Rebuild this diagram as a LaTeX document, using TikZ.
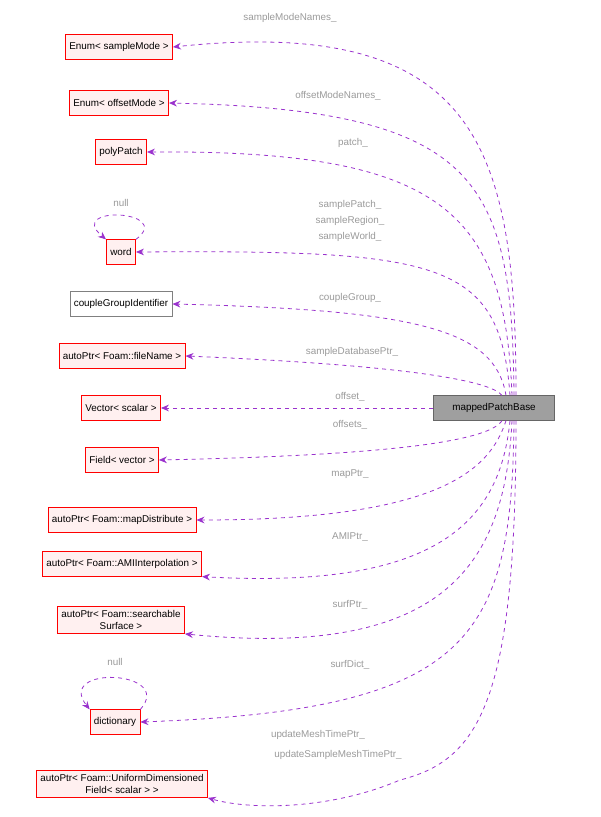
\documentclass[tikz,border=0pt]{standalone}
\usepackage{fontspec}
\setmainfont{Liberation Sans}
\usetikzlibrary{arrows.meta}
\definecolor{edgepurple}{HTML}{9A32CD}
\definecolor{boxred}{HTML}{FF0000}
\definecolor{boxfill}{HTML}{FFF0F0}
\definecolor{labgray}{HTML}{9A9A9A}
\tikzset{
  x=0.75pt, y=-0.75pt,
  cls/.style={draw=boxred, fill=boxfill, font=\fontsize{7.4}{9}\selectfont, inner sep=3pt, minimum height=18.5pt, align=center},
  plain/.style={cls, draw=gray, fill=white},
  main/.style={cls, draw=gray!80!black, fill=gray!75, minimum width=91pt},
  rel/.style={draw=edgepurple, dashed, line width=0.6pt, -{Stealth[length=6pt,width=5pt]}},
  lab/.style={text=labgray, font=\fontsize{7.4}{9}\selectfont, inner sep=0pt},
}
\begin{document}
\begin{tikzpicture}
  \useasboundingbox (0,0) rectangle (600,817);
  % classes
  \node[main] (mp) at (494,408) {mappedPatchBase};
  \node[cls] (sm) at (119,47) {Enum< sampleMode >};
  \node[cls] (om) at (119,103) {Enum< offsetMode >};
  \node[cls] (pp) at (121,152) {polyPatch};
  \node[cls] (wd) at (121,252) {word};
  \node[plain] (cg) at (121,304) {coupleGroupIdentifier};
  \node[cls] (fn) at (122,356) {autoPtr< Foam::fileName >};
  \node[cls] (vs) at (121,408) {Vector< scalar >};
  \node[cls] (fv) at (122,460) {Field< vector >};
  \node[cls] (md) at (122,520) {autoPtr< Foam::mapDistribute >};
  \node[cls] (ami) at (122,564) {autoPtr< Foam::AMIInterpolation >};
  \node[cls] (ss) at (121,620) {autoPtr< Foam::searchable\\Surface >};
  \node[cls] (dc) at (115,722) {dictionary};
  \node[cls] (ud) at (122,784) {autoPtr< Foam::UniformDimensioned\\Field< scalar > >};

  % relations
  \draw[rel] ([xshift=16.5pt]mp.north) .. controls (516,150) and (480,15) .. (sm.east);
  \draw[rel] ([xshift=15pt]mp.north) .. controls (512,180) and (480,110) .. (om.east);
  \draw[rel] ([xshift=13.5pt]mp.north) .. controls (505,210) and (440,150) .. (pp.east);
  \draw[rel] ([xshift=12pt]mp.north) .. controls (500,260) and (440,250) .. (wd.east);
  \draw[rel] ([xshift=9pt]mp.north) .. controls (495,330) and (420,310) .. (cg.east);
  \draw[rel] ([xshift=6pt]mp.north) .. controls (490,380) and (400,365) .. (fn.east);
  \draw[rel] (mp.west) -- (vs.east);
  \draw[rel] ([xshift=6pt]mp.south) .. controls (490,440) and (400,455) .. (fv.east);
  \draw[rel] ([xshift=9pt]mp.south) .. controls (490,470) and (440,520) .. (md.east);
  \draw[rel] ([xshift=12pt]mp.south) .. controls (500,520) and (440,590) .. (ami.south east);
  \draw[rel] ([xshift=13.5pt]mp.south) .. controls (505,560) and (450,660) .. (ss.south east);
  \draw[rel] ([xshift=15pt]mp.south) .. controls (512,640) and (470,710) .. (dc.east);
  \draw[rel] ([xshift=16.5pt]mp.south) .. controls (516,700) and (480,760) .. (400,780) .. controls (330,810) and (250,810) .. (ud.south east);
  \draw[rel] (wd.north east) .. controls (175,210) and (65,205) .. (wd.north west);
  \draw[rel] (dc.north east) .. controls (175,670) and (55,665) .. (dc.north west);

  % labels
  \node[lab] (l1) at (290,18) {sampleModeNames\_};
  \node[lab] (l2) at (338,96) {offsetModeNames\_};
  \node[lab] (l3) at (353,143) {patch\_};
  \node[lab, align=center] (l4) at (350,221) {samplePatch\_\\[3pt]sampleRegion\_\\[3pt]sampleWorld\_};
  \node[lab] (l5) at (350,298) {coupleGroup\_};
  \node[lab] (l6) at (352,352) {sampleDatabasePtr\_};
  \node[lab] (l7) at (350,397) {offset\_};
  \node[lab] (l8) at (350,425) {offsets\_};
  \node[lab] (l9) at (350,474) {mapPtr\_};
  \node[lab] (l10) at (350,537) {AMIPtr\_};
  \node[lab] (l11) at (350,605) {surfPtr\_};
  \node[lab] (l12) at (350,665) {surfDict\_};
  \node[lab] (l13) at (318,735) {updateMeshTimePtr\_};
  \node[lab] (l14) at (338,755) {updateSampleMeshTimePtr\_};
  \node[lab] (n1) at (121,203) {null};
  \node[lab] (n2) at (115,662) {null};
\end{tikzpicture}
\end{document}
